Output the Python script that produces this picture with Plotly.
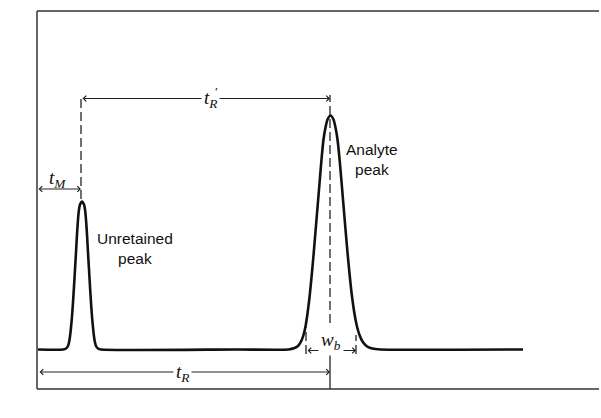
import plotly.graph_objects as go

# ---- data (x: time units, y: detector response units) ----
baseline = 39.5
# unretained peak: offsets from centre and heights above baseline
unret_center = 45
unret_off = [-19, -16, -14, -13, -12, -11, -10, -9, -8, -7, -6, -5, -4, -3, -2, 0,
             2, 3, 4, 5, 6, 7, 8, 9, 10, 11, 12, 13, 14, 16, 19]
unret_h = [0, 1, 3.5, 7, 13, 22, 33, 47, 63, 80, 97, 115, 130, 140, 145, 148,
           145, 140, 130, 115, 97, 80, 63, 47, 33, 22, 13, 7, 3.5, 1, 0]
# analyte peak
anal_center = 293.5
anal_off = [-42, -36, -32, -29, -27, -25, -23, -21, -19, -17, -15, -13, -11, -9, -7, -5, -3, 0,
            3, 5, 7, 9, 11, 13, 15, 17, 19, 21, 23, 25, 27, 29, 32, 36, 40, 45, 50]
anal_h = [0, 1.5, 4, 9, 14.5, 23, 36, 52, 72, 94, 118, 142, 166, 190, 210, 222, 230, 234,
          230, 222, 210, 191, 168, 144, 120, 97, 76, 57, 42, 30, 21, 14.5, 8, 3.5, 1.5, 0.5, 0]
trace_start, trace_end = 1, 486

t_M = 44
t_R = 293
wb_left, wb_right = 269, 319

xs = [trace_start] + [unret_center + o for o in unret_off] + [200] + \
     [anal_center + o for o in anal_off] + [trace_end]
ys = [baseline] + [baseline + h for h in unret_h] + [baseline] + \
     [baseline + h for h in anal_h] + [baseline]

X_MAX = 550          # visible time range in the plot area
FRAME_END = 562 / X_MAX  # frame lines run on almost to the right edge of the page

fig = go.Figure()
fig.add_trace(go.Scatter(x=xs, y=ys, mode="lines",
                         line=dict(color="#111", width=2.6, shape="spline", smoothing=0.6),
                         hoverinfo="skip", showlegend=False))

DASH = "9px,4px"
def vline(x, y0, y1, dash=DASH):
    fig.add_shape(type="line", x0=x, x1=x, y0=y0, y1=y1, xref="x", yref="y",
                  line=dict(color="#111", width=1.2, dash=dash))

vline(t_M, 190, 294)
vline(t_R, 40, 294)
vline(t_R, 0, 36, dash="solid")
vline(wb_left, 35, 62)
vline(wb_right, 35, 54)

# frame lines: left, bottom, top (right side open)
frame = dict(color="#333", width=1.5)
fig.add_shape(type="line", xref="paper", yref="paper", x0=0, x1=FRAME_END, y0=1, y1=1, line=frame)
fig.add_shape(type="line", xref="paper", yref="paper", x0=0, x1=FRAME_END, y0=0, y1=0, line=frame)
fig.add_shape(type="line", xref="paper", yref="paper", x0=0, x1=0, y0=0, y1=1, line=frame)

def darrow(x0, x1, y):
    fig.add_annotation(x=x1, y=y, ax=x0, ay=y, xref="x", yref="y", axref="x", ayref="y",
                       text="", showarrow=True, arrowhead=4, arrowside="end+start",
                       arrowsize=1.1, arrowwidth=1, arrowcolor="#222",
                       standoff=0, startstandoff=0)

darrow(t_M, t_R, 290.5)
darrow(0, t_M, 200)
darrow(wb_left, wb_right, 38.5)
darrow(1, t_R, 17)

serif = dict(family="Liberation Serif, DejaVu Serif, serif", size=19, color="#111")
sans = dict(family="Liberation Sans, Arial, sans-serif", size=15.5, color="#111")

def lab(x, y, text, font, bg=None, **kw):
    fig.add_annotation(x=x, y=y, xref="x", yref="y", text=text, showarrow=False,
                       font=font, bgcolor=bg, borderpad=2, **kw)

lab(173, 290, "<i>t</i><sub><i>R</i></sub>", serif, bg="white")
lab(179, 298, "′", dict(family="Liberation Serif, serif", size=13, color="#111"))
lab(20, 210, "<i>t</i><sub><i>M</i></sub>", serif)
lab(294, 48, "<i>w</i><sub><i>b</i></sub>", serif, bg="white")
lab(145, 16, "<i>t</i><sub><i>R</i></sub>", serif, bg="white")

lab(98, 141, "Unretained<br>peak", sans, align="center")
lab(335, 230, "Analyte<br>peak", sans, align="center")
lab(-20, 201, "Detector response", dict(sans, size=14.5), textangle=-90)
lab(273, -22, "Time", dict(sans, size=14.5))
fig.add_annotation(x=346, y=-21, ax=296, ay=-21, xref="x", yref="y", axref="x", ayref="y",
                   text="", showarrow=True, arrowhead=4, arrowsize=1.1, arrowwidth=1,
                   arrowcolor="#222", standoff=0, startstandoff=0)

fig.update_layout(width=601, height=418, margin=dict(l=37, r=564 - X_MAX, t=11, b=29),
                  paper_bgcolor="white", plot_bgcolor="white",
                  xaxis=dict(range=[0, X_MAX], showgrid=False, zeroline=False, showticklabels=False,
                             ticks="", showline=False, fixedrange=True),
                  yaxis=dict(range=[0, 378], showgrid=False, zeroline=False, showticklabels=False,
                             ticks="", showline=False, fixedrange=True))
fig.write_html("out.html")
